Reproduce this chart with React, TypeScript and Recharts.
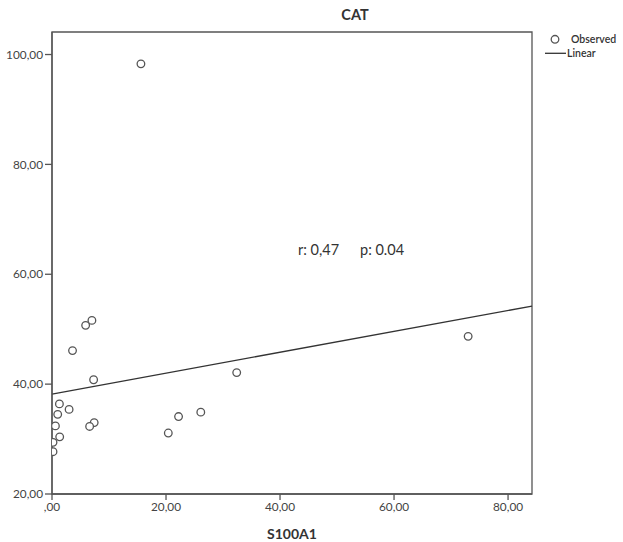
import {
  ComposedChart,
  ReferenceArea,
  ReferenceLine,
  Scatter,
  XAxis,
  YAxis,
} from "recharts";

// S100A1 (x) vs CAT (y)
const S100A1 = [
  7.0, 5.9, 3.6, 7.3, 1.3, 3.0, 1.0, 0.6, 7.4, 6.6, 1.35, 0.18, 0.18, 20.4, 22.2, 26.1, 32.4, 15.6, 73.0,
];
const CAT = [
  51.6, 50.7, 46.1, 40.8, 36.4, 35.4, 34.5, 32.4, 33.0, 32.3, 30.4, 29.4, 27.7, 31.1, 34.1, 34.9, 42.1, 98.3, 48.7,
];
const X_TICKS = [0, 20, 40, 60, 80];
const Y_TICKS = [20, 40, 60, 80, 100];
const FIT = { intercept: 38.2, slope: 0.19 };
const STATS = ["r: 0,47", "p: 0.04"];

const X_MAX = 84.2;
const Y_MIN = 20;
const Y_MAX = 104.1;

const points = S100A1.map((x, i) => ({ x, y: CAT[i] }));

const INK = "#555";
const FONT = "Lato, 'Liberation Sans', sans-serif";
const TICK = { fontSize: 11.8, fill: "#444", fontFamily: FONT } as const;

const fmt = (v: number) => (v === 0 ? ",00" : v.toFixed(2).replace(".", ","));

const Ring = (p: any) => (
  <circle cx={p.cx} cy={p.cy} r={3.8} fill="#fff" stroke={INK} strokeWidth={1.3} />
);

export default function App() {
  return (
    <div
      style={{
        position: "absolute",
        left: 0,
        top: 0,
        width: 623,
        height: 542,
        background: "#fff",
        fontFamily: FONT,
      }}
    >
      <ComposedChart width={623} height={542} margin={{ top: 32, right: 91, bottom: 0, left: 0 }}>
        <XAxis
          type="number"
          dataKey="x"
          domain={[0, X_MAX]}
          ticks={X_TICKS}
          tickFormatter={fmt}
          tick={TICK}
          tickSize={6}
          tickMargin={3}
          height={48}
          stroke={INK}
          strokeWidth={1.3}
          allowDataOverflow
          label={{
            value: "S100A1",
            position: "insideBottom",
            offset: 3,
            style: { fontSize: 14, fontWeight: 700, fill: "#333", fontFamily: FONT },
          }}
        />
        <YAxis
          type="number"
          dataKey="y"
          domain={[Y_MIN, Y_MAX]}
          ticks={Y_TICKS}
          tickFormatter={fmt}
          tick={TICK}
          tickSize={7}
          tickMargin={2}
          width={52}
          stroke={INK}
          strokeWidth={1.3}
          allowDataOverflow
        />
        <ReferenceArea
          x1={0}
          x2={X_MAX}
          y1={Y_MIN}
          y2={Y_MAX}
          fill="none"
          stroke={INK}
          strokeWidth={1.3}
          fillOpacity={0}
        />
        <ReferenceLine
          segment={[
            { x: 0, y: FIT.intercept },
            { x: X_MAX, y: FIT.intercept + FIT.slope * X_MAX },
          ]}
          stroke="#333"
          strokeWidth={1.3}
        />
        <Scatter data={points} shape={Ring} isAnimationActive={false} />
      </ComposedChart>

      <div
        style={{
          position: "absolute",
          left: 355,
          top: 6,
          transform: "translateX(-50%)",
          fontSize: 14.5,
          fontWeight: 700,
          color: "#333",
        }}
      >
        CAT
      </div>

      <div style={{ position: "absolute", left: 298, top: 241, fontSize: 14.5, color: "#333" }}>
        {STATS[0]}
      </div>
      <div style={{ position: "absolute", left: 360, top: 241, fontSize: 14.5, color: "#333" }}>
        {STATS[1]}
      </div>

      <svg style={{ position: "absolute", left: 540, top: 30 }} width={83} height={32}>
        <circle cx={15} cy={9.3} r={3.8} fill="#fff" stroke={INK} strokeWidth={1.3} />
        <text x={31} y={13} fontSize={10.5} fontWeight={600} fill="#333" fontFamily={FONT}>
          Observed
        </text>
        <line x1={5} x2={26} y1={23.3} y2={23.3} stroke="#333" strokeWidth={1.3} />
        <text x={27} y={27} fontSize={10.5} fontWeight={600} fill="#333" fontFamily={FONT}>
          Linear
        </text>
      </svg>
    </div>
  );
}
